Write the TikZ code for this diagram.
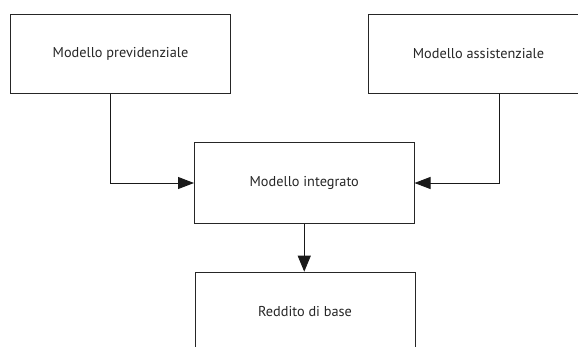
\documentclass[tikz,border=0pt]{standalone}
\usepackage{fontspec}
\setmainfont{PT Sans}
\usetikzlibrary{arrows.meta}
\begin{document}
\begin{tikzpicture}[x=1pt,y=-1pt,
  box/.style={draw=black!85, line width=1pt, minimum width=220pt, minimum height=79.5pt,
    inner sep=0pt, anchor=north west, font=\fontsize{14.3}{16}\selectfont, text=black!85},
  arr/.style={draw=black!90, line width=0.9pt, -{Triangle[length=16pt,width=12pt]}}]
\useasboundingbox (0,0) rectangle (578,346);
\clip (0,0) rectangle (578,346);
\node[box] (prev) at (10,13.7) {Modello previdenziale};
\node[box] (assi) at (368,13.7) {Modello assistenziale};
\node[box, minimum width=219.5pt, minimum height=80.4pt] (integ) at (194,142.3) {Modello integrato};
\node[box] (base) at (194.5,271.7) {Reddito di base};
\draw[arr] ([xshift=-9.6pt]prev.south) |- (integ.west);
\draw[arr] ([xshift=21pt]assi.south) |- (integ.east);
\draw[arr, -{Triangle[length=16pt,width=13pt]}] (integ.south) -- (integ.south |- base.north);
\end{tikzpicture}
\end{document}
